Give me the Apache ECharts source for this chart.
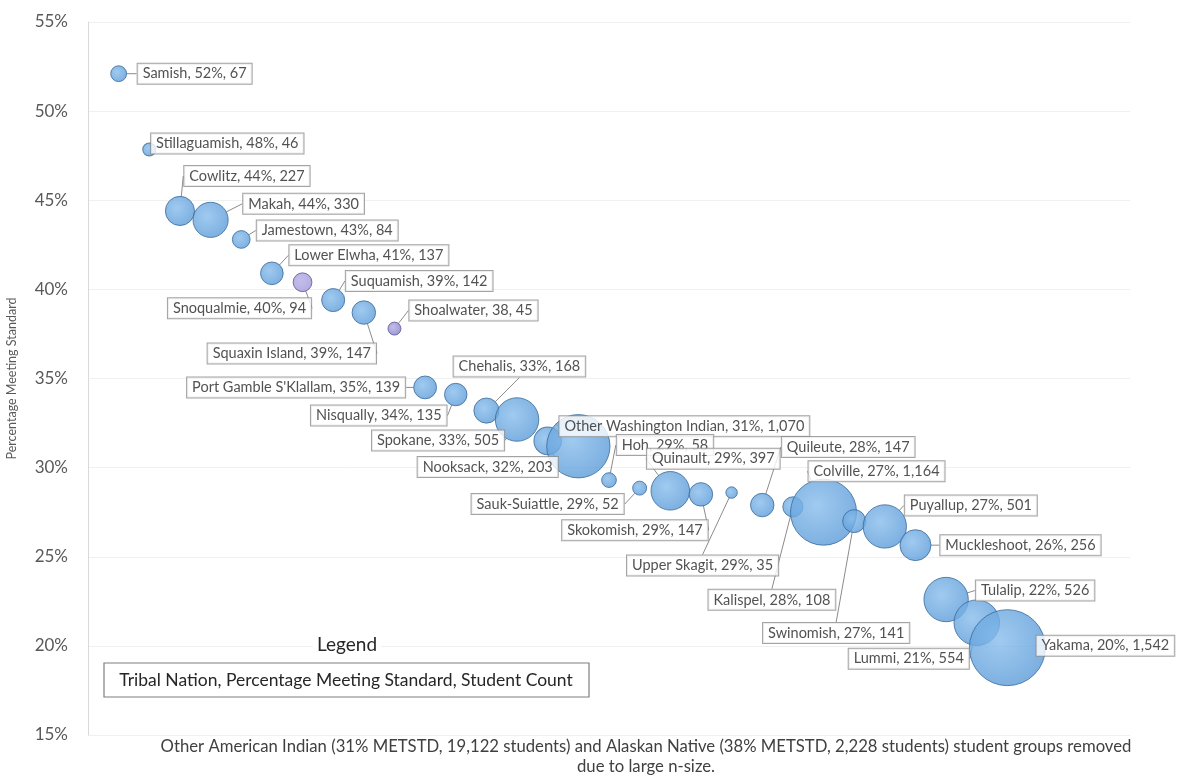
<!DOCTYPE html>
<html>
<head>
<meta charset="utf-8">
<script src="https://cdn.jsdelivr.net/npm/echarts@6/dist/echarts.min.js"></script>
<style>
html,body{margin:0;padding:0;background:#fff;}
#chart{width:1180px;height:778px;}
</style>
</head>
<body>
<div id="chart"></div>
<script>
// ---- data ----
const nations = ["Samish","Stillaguamish","Cowlitz","Makah","Jamestown","Lower Elwha","Snoqualmie","Suquamish","Squaxin Island","Shoalwater","Port Gamble S'Klallam","Nisqually","Chehalis","Spokane","Nooksack","Other Washington Indian","Hoh","Sauk-Suiattle","Quinault","Skokomish","Upper Skagit","Quileute","Kalispel","Colville","Swinomish","Puyallup","Muckleshoot","Tulalip","Lummi","Yakama"];
const pctMeeting = [52.1,47.85,44.4,43.9,42.8,40.9,40.4,39.4,38.7,37.8,34.5,34.1,33.2,32.7,31.5,31.2,29.3,28.85,28.7,28.5,28.6,27.9,27.8,27.5,27.0,26.7,25.65,22.6,21.3,19.9];
const pctText = ["52%","48%","44%","44%","43%","41%","40%","39%","39%","38","35%","34%","33%","33%","32%","31%","29%","29%","29%","29%","29%","28%","28%","27%","27%","27%","26%","22%","21%","20%"];
const studentCount = [67,46,227,330,84,137,94,142,147,45,139,135,168,505,203,1070,58,52,397,147,35,147,108,1164,141,501,256,526,554,1542];
const yTicks = [15,20,25,30,35,40,45,50,55];

// ---- layout (label offsets from bubble centre, px) ----
const labelOffsets = [[76,0],[78,-6],[67,-35],[93,-16],[86,-9],[97,-18],[-63,26],[86,-19],[-72,41],[79,-18],[-129,0],[-77,21],[33,-44],[-79,21],[-60,26],[106,-20],[56,-35],[-92,16],[43,-32],[-66,36],[-29,73],[86,-58],[-21,93],[53,-41],[-18,112],[86,-21],[105,0],[89,-9],[-68,36],[98,-2]];
const purple = {"Snoqualmie":"#9d96d8","Shoalwater":"#7c78c2"};

const FONT = "Lato, 'Open Sans', sans-serif";
const fmt = n => n.toLocaleString('en-US');

const data = nations.map((n,i)=>({
  value:[i+1, pctMeeting[i], studentCount[i]],
  name:n,
  itemStyle: purple[n] ? {color:{type:'radial',x:0.4,y:0.4,r:0.7,colorStops:[{offset:0,color:'#b3aee6'},{offset:1,color:purple[n]}]}, borderColor:'#5a5596'} : undefined
}));

const chart = echarts.init(document.getElementById('chart'));
chart.setOption({
  animation:false,
  backgroundColor:'#fff',
  grid:{left:88,right:50,top:22,bottom:43,containLabel:false,outerBoundsMode:'none'},
  xAxis:{type:'value',min:0,max:34,show:false},
  yAxis:{
    type:'value',min:15,max:55,interval:5,
    name:'Percentage Meeting Standard',nameLocation:'middle',nameGap:70,nameRotate:90,
    nameTextStyle:{color:'#595959',fontSize:12.5,fontFamily:FONT},
    axisLine:{show:true,lineStyle:{color:'#d9d9d9'}},
    axisTick:{show:false},
    axisLabel:{formatter:v=>yTicks.includes(v)?v+'%':'',color:'#595959',fontSize:17,fontFamily:FONT,margin:20},
    splitLine:{lineStyle:{color:'#f0f0f0'}}
  },
  series:[{
    type:'scatter',
    data:data,
    symbolSize:v=>76*Math.sqrt(v[2]/1542),
    itemStyle:{
      color:{type:'radial',x:0.4,y:0.4,r:0.7,colorStops:[{offset:0,color:'#88bdec'},{offset:1,color:'#5697d6'}]},
      borderColor:'#3a6a98',borderWidth:1
    },
    label:{
      show:true,position:'inside',
      formatter:p=>`${nations[p.dataIndex]}, ${pctText[p.dataIndex]}, ${fmt(studentCount[p.dataIndex])}`,
      color:'#262626',fontSize:14.5,fontFamily:FONT,
      backgroundColor:'#fff',borderColor:'#8c8c8c',borderWidth:1,padding:[3,5,2,5]
    },
    labelLine:{show:true,lineStyle:{color:'#8c8c8c',width:1}},
    labelLayout:p=>({dx:labelOffsets[p.dataIndex][0],dy:labelOffsets[p.dataIndex][1]})
  }],
  graphic:[
    {type:'text',z:100,x:347,y:645,style:{text:'Legend',fill:'#262626',font:`19px ${FONT}`,textAlign:'center',textVerticalAlign:'middle',backgroundColor:'#fff',padding:[2,4]}},
    {type:'rect',z:100,shape:{x:104,y:663,width:485,height:34},style:{fill:'#fff',stroke:'#7f7f7f',lineWidth:1.2}},
    {type:'text',z:101,x:346,y:680,style:{text:'Tribal Nation, Percentage Meeting Standard, Student Count',fill:'#262626',font:`17.5px ${FONT}`,textAlign:'center',textVerticalAlign:'middle'}},
    {type:'text',z:100,x:646,y:747,style:{text:'Other American Indian (31% METSTD, 19,122 students) and Alaskan Native (38% METSTD, 2,228 students) student groups removed',fill:'#404040',font:`16.7px ${FONT}`,textAlign:'center',textVerticalAlign:'middle'}},
    {type:'text',z:100,x:646,y:767,style:{text:'due to large n-size.',fill:'#404040',font:`16.7px ${FONT}`,textAlign:'center',textVerticalAlign:'middle'}}
  ]
});
</script>
</body>
</html>
